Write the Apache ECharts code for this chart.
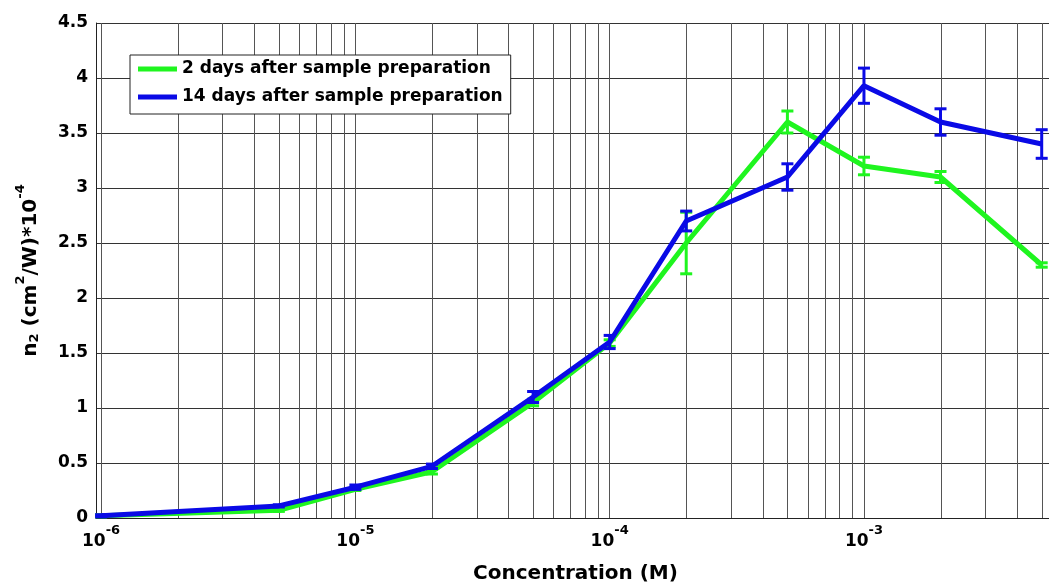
<!DOCTYPE html>
<html>
<head>
<meta charset="utf-8">
<script src="https://cdn.jsdelivr.net/npm/echarts@6/dist/echarts.min.js"></script>
<style>
html,body{margin:0;padding:0;background:#fff;}
#chart{width:1049px;height:584px;}
</style>
</head>
<body>
<div id="chart"></div>
<script>
// ---- data ----
const concentrations = [1e-6, 5e-6, 1e-5, 2e-5, 5e-5, 1e-4, 2e-4, 5e-4, 1e-3, 2e-3, 5e-3];
const days2Values  = [0.02, 0.07, 0.26, 0.42, 1.05, 1.59, 2.50, 3.60, 3.20, 3.10, 2.30];
const days2Errors  = [0.01, 0.01, 0.01, 0.02, 0.03, 0.03, 0.28, 0.10, 0.08, 0.05, 0.02];
const days14Values = [0.02, 0.11, 0.28, 0.47, 1.10, 1.60, 2.70, 3.10, 3.93, 3.60, 3.40];
const days14Errors = [0.01, 0.01, 0.02, 0.02, 0.05, 0.06, 0.09, 0.12, 0.16, 0.12, 0.13];
const seriesNames = ['2 days after sample preparation', '14 days after sample preparation'];
const minorDecades = [-6, -5, -4, -3];
const minorMultipliers = [2, 3, 4, 5, 6, 7, 8, 9];
const xMin = 0.955e-6, xMax = 5.64e-3;
const yTicks = [0, 0.5, 1, 1.5, 2, 2.5, 3, 3.5, 4, 4.5];

const FONT = 'DejaVu Sans';
const GREEN = '#1ff51f', BLUE = '#0a0ae6';
const yMin = yTicks[0], yMax = yTicks[yTicks.length - 1];

const minorGrid = [];
minorDecades.forEach(d => minorMultipliers.forEach(m => {
  const v = m * Math.pow(10, d);
  if (v < xMax) minorGrid.push([v, yMin, yMax]);
}));

function errorData(vals, errs) {
  return concentrations.map((c, i) => [c, vals[i] - errs[i], vals[i] + errs[i]]);
}
function errorRenderer(color) {
  return function (params, api) {
    const x = api.value(0), lo = api.value(1), hi = api.value(2);
    const pLo = api.coord([x, lo]), pHi = api.coord([x, hi]);
    const w = 6;
    const style = { stroke: color, lineWidth: 3, fill: null };
    return {
      type: 'group',
      children: [
        { type: 'line', shape: { x1: pLo[0], y1: pLo[1], x2: pHi[0], y2: pHi[1] }, style },
        { type: 'line', shape: { x1: pLo[0] - w, y1: pLo[1], x2: pLo[0] + w, y2: pLo[1] }, style },
        { type: 'line', shape: { x1: pHi[0] - w, y1: pHi[1], x2: pHi[0] + w, y2: pHi[1] }, style }
      ]
    };
  };
}
function gridRenderer(params, api) {
  const x = api.value(0);
  const p0 = api.coord([x, api.value(1)]), p1 = api.coord([x, api.value(2)]);
  return {
    type: 'line',
    shape: { x1: Math.round(p0[0]) + 0.5, y1: p0[1], x2: Math.round(p1[0]) + 0.5, y2: p1[1] },
    style: { stroke: '#555', lineWidth: 1 }
  };
}

const chart = echarts.init(document.getElementById('chart'), null, { renderer: 'canvas' });
chart.setOption({
  animation: false,
  backgroundColor: '#fff',
  textStyle: { fontFamily: FONT, fontWeight: 'bold', color: '#000' },
  grid: { left: 96, top: 23, right: -6, bottom: 66, containLabel: false, outerBoundsMode: 'none' },
  legend: {
    data: seriesNames,
    orient: 'vertical',
    left: 130, top: 55,
    padding: [3, 8, 6, 8],
    itemGap: 6,
    itemWidth: 39, itemHeight: 5,
    icon: 'rect',
    backgroundColor: '#fff',
    borderColor: '#222', borderWidth: 1, borderRadius: 0,
    textStyle: { fontFamily: FONT, fontWeight: 'bold', fontSize: 17, lineHeight: 22, color: '#000' },
    z: 10
  },
  xAxis: {
    type: 'log',
    min: xMin, max: xMax,
    name: 'Concentration (M)',
    nameLocation: 'middle',
    nameGap: 45,
    nameTextStyle: { fontFamily: FONT, fontWeight: 'bold', fontSize: 20, lineHeight: 20, color: '#000' },
    axisLine: { show: true, lineStyle: { color: '#222', width: 1 } },
    axisTick: { show: false },
    splitLine: { show: true, lineStyle: { color: '#555', width: 1 } },
    axisLabel: {
      interval: 0,
      margin: 15,
      showMinLabel: true, showMaxLabel: true,
      formatter: function (v) {
        const e = Math.log10(v);
        const r = Math.round(e);
        if (Math.abs(e - r) > 1e-6) return '';
        return '{b|10}{s|' + r + '}';
      },
      rich: {
        b: { fontFamily: FONT, fontWeight: 'bold', fontSize: 17, lineHeight: 17, color: '#000', verticalAlign: 'middle' },
        s: { fontFamily: FONT, fontWeight: 'bold', fontSize: 13, lineHeight: 13, color: '#000', verticalAlign: 'middle', padding: [0, 0, 22, 0] }
      }
    }
  },
  yAxis: {
    type: 'value',
    min: yMin, max: yMax, interval: 0.5,
    name: '{m|n}{sub|2}{m| (cm}{sup|2}{m|/W)*10}{sup|-4}',
    nameLocation: 'middle',
    nameRotate: 90,
    nameGap: 50,
    nameTextStyle: {
      rich: {
        m: { fontFamily: FONT, fontWeight: 'bold', fontSize: 20, lineHeight: 20, color: '#000', verticalAlign: 'middle' },
        sup: { fontFamily: FONT, fontWeight: 'bold', fontSize: 13, lineHeight: 13, color: '#000', verticalAlign: 'middle', padding: [0, 0, 20, 0] },
        sub: { fontFamily: FONT, fontWeight: 'bold', fontSize: 13, lineHeight: 13, color: '#000', verticalAlign: 'middle', padding: [8, 0, 0, 0] }
      }
    },
    axisLine: { show: true, lineStyle: { color: '#222', width: 1 } },
    axisTick: { show: false },
    splitLine: { show: true, lineStyle: { color: '#333', width: 1 } },
    axisLabel: { margin: 8, fontFamily: FONT, fontWeight: 'bold', fontSize: 17, color: '#000' }
  },
  series: [
    {
      name: 'minor-grid', type: 'custom', z: 1, silent: true,
      data: minorGrid,
      encode: { x: 0, y: [1, 2] },
      renderItem: gridRenderer
    },
    {
      name: seriesNames[0], type: 'line', z: 3,
      data: concentrations.map((c, i) => [c, days2Values[i]]),
      showSymbol: false, symbol: 'none',
      itemStyle: { color: GREEN },
      lineStyle: { color: GREEN, width: 5 }
    },
    {
      name: seriesNames[0] + ' error', type: 'custom', z: 3,
      data: errorData(days2Values, days2Errors),
      encode: { x: 0, y: [1, 2] },
      renderItem: errorRenderer(GREEN)
    },
    {
      name: seriesNames[1], type: 'line', z: 4,
      data: concentrations.map((c, i) => [c, days14Values[i]]),
      showSymbol: false, symbol: 'none',
      itemStyle: { color: BLUE },
      lineStyle: { color: BLUE, width: 5 }
    },
    {
      name: seriesNames[1] + ' error', type: 'custom', z: 4,
      data: errorData(days14Values, days14Errors),
      encode: { x: 0, y: [1, 2] },
      renderItem: errorRenderer(BLUE)
    }
  ]
});
</script>
</body>
</html>
